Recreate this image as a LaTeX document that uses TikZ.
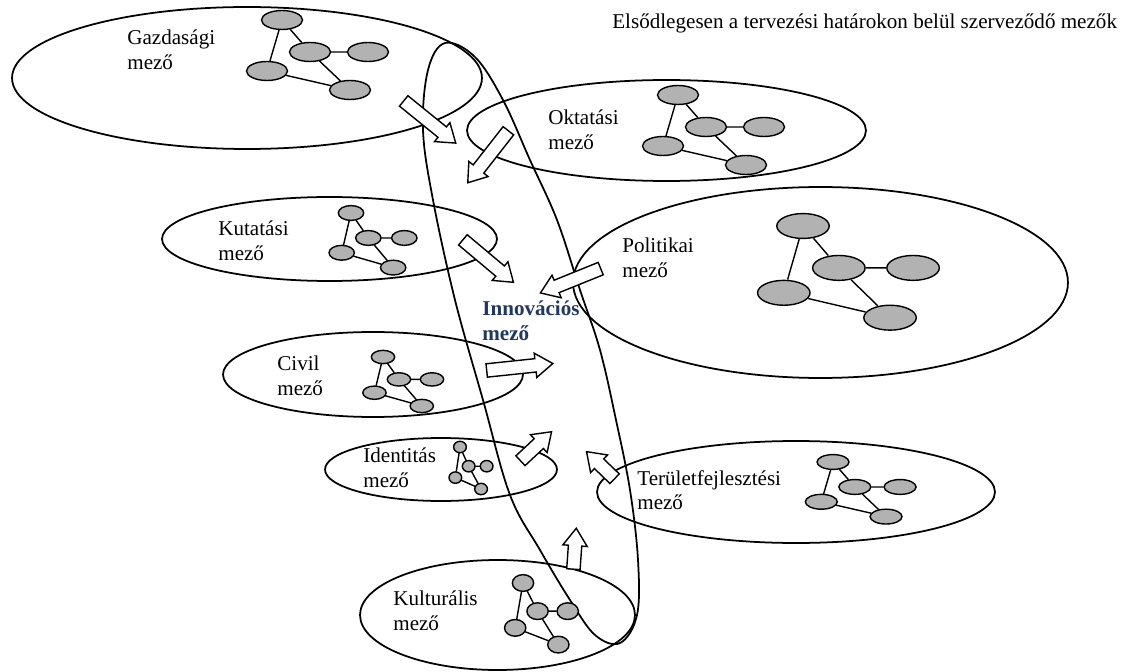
\documentclass[tikz,border=0pt]{standalone}
\usepackage{fontspec}
\setmainfont{Liberation Serif}
\usetikzlibrary{shapes.geometric, shapes.arrows}
\definecolor{innovblue}{RGB}{31,56,100}

\tikzset{
  field/.style={ellipse, draw, line width=1pt, inner sep=0pt},
  fieldtext/.style={anchor=west, align=left, inner sep=0pt, font=\fontsize{12}{14}\selectfont},
  netnode/.style={ellipse, draw, fill=black!30, line width=0.8pt, minimum width=0.82cm, minimum height=0.38cm, inner sep=0pt, transform shape},
  netline/.style={line width=0.8pt},
  flow/.style={single arrow, draw, fill=white, line width=0.8pt, inner sep=0pt, inner ysep=0.12cm,
    minimum width=0.46cm, single arrow head extend=0.11cm, single arrow tip angle=70},
  net/.pic={
    \node[netnode] (-t) at (0,0) {};
    \node[netnode] (-m) at (28,32) {};
    \node[netnode] (-r) at (86,32) {};
    \node[netnode] (-l) at (-15,51) {};
    \node[netnode] (-b) at (68,70) {};
    \draw[netline] (-t) -- (-m) (-t) -- (-l) (-m) -- (-r) (-m) -- (-b) (-l) -- (-b);
  }
}

\begin{document}
\begin{tikzpicture}[x=0.02cm, y=-0.02cm]
\path[use as bounding box, fill=white] (0,0) rectangle (1126,672);

% fields
\node[field, minimum width=9.40cm, minimum height=2.84cm] (gazd) at (247,78) {};
\node[field, minimum width=7.98cm, minimum height=2.02cm] (okt) at (666.5,130.5) {};
\node[field, minimum width=6.70cm, minimum height=1.68cm] (kut) at (329.5,239) {};
\node[field, minimum width=9.90cm, minimum height=3.82cm] (pol) at (820.5,282.5) {};
\node[field, minimum width=6.00cm, minimum height=1.70cm] (civil) at (373,374.5) {};
\node[field, minimum width=4.64cm, minimum height=1.26cm] (ident) at (441,469.5) {};
\node[field, minimum width=7.96cm, minimum height=2.04cm] (terf) at (796,492) {};
\node[field, minimum width=5.50cm, minimum height=2.20cm] (kult) at (497.5,615) {};

% innovation field
\draw[line width=1pt] plot[smooth cycle, tension=0.6] coordinates {
  (445,43) (475,57) (503,100) (530,160) (557,220) (580,290) (600,350) (616,420)
  (630,490) (638,560) (637,615) (620,643) (595,635) (570,600) (540,550) (510,495)
  (483,400) (455,300) (433,200) (423,130) (428,70)};

% texts
\node[fieldtext] (title) at (612,23) {Elsődlegesen a tervezési határokon belül szerveződő mezők};
\node[fieldtext] (gazd-text) at (127,49.5) {Gazdasági\\mező};
\node[fieldtext] (okt-text) at (548,129.5) {Oktatási\\mező};
\node[fieldtext] (kut-text) at (218,240.5) {Kutatási\\mező};
\node[fieldtext] (pol-text) at (622,257.5) {Politikai\\mező};
\node[fieldtext] (civil-text) at (277,376) {Civil\\mező};
\node[fieldtext] (ident-text) at (363,467.5) {Identitás\\mező};
\node[fieldtext] (terf-text) at (637,490) {Területfejlesztési\\mező};
\node[fieldtext] (kult-text) at (393,610.5) {Kulturális\\mező};
\node[fieldtext, font=\fontsize{12}{14}\selectfont\bfseries, text=innovblue] (innov) at (482,320.5) {Innovációs\\mező};

% networks
\pic (gazdnet) at (282,20) {net};
\pic (oktnet) at (678,95) {net};
\pic[xscale=1.28, yscale=1.31] (polnet) at (803,226) {net};
\pic[xscale=0.62, yscale=0.78] (kutnet) at (351,213) {net};
\pic[xscale=0.57, yscale=0.70] (civilnet) at (383,357) {net};
\pic[xscale=0.31, yscale=0.60] (identnet) at (460,447) {net};
\pic[xscale=0.78, yscale=0.78] (terfnet) at (833,462) {net};
\pic[xscale=0.52, yscale=0.88] (kultnet) at (523,583) {net};

% flows into the innovation field
\node[flow, minimum height=1.34cm, rotate=-39] (gazd-flow) at (426,119) {};
\node[flow, minimum height=1.32cm, rotate=-128] (okt-flow) at (491,153) {};
\node[flow, minimum height=1.32cm, rotate=-40] (kut-flow) at (484.5,258) {};
\node[flow, minimum height=1.30cm, rotate=202] (pol-flow) at (575,279) {};
\node[flow, minimum height=1.33cm, rotate=6] (civil-flow) at (515,367.5) {};
\node[flow, minimum height=0.85cm, rotate=43] (ident-flow) at (532.5,449.5) {};
\node[flow, minimum height=0.78cm, rotate=136] (terf-flow) at (604,468.5) {};
\node[flow, minimum height=0.82cm, rotate=86] (kult-flow) at (574.5,553.5) {};
\end{tikzpicture}
\end{document}
